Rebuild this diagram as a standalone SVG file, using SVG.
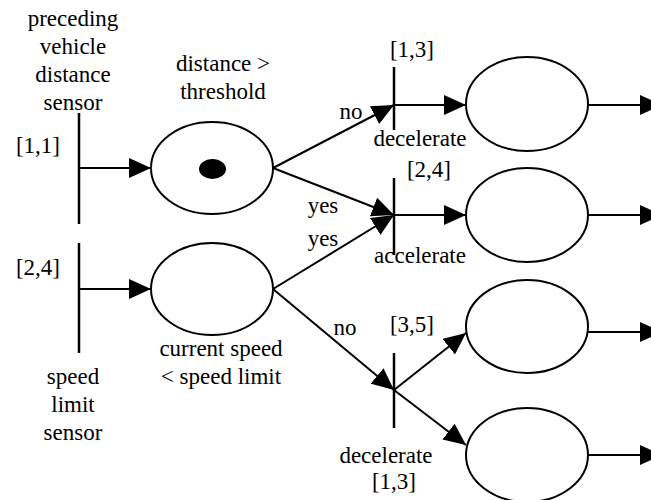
<svg xmlns="http://www.w3.org/2000/svg" width="651" height="500" viewBox="0 0 651 500">
<defs>
<marker id="ah" viewBox="0 0 22 20" refX="22" refY="10" markerWidth="22" markerHeight="20" markerUnits="userSpaceOnUse" orient="auto">
<path d="M0,0 L22,10 L0,20 Z" fill="#000"/>
</marker>
</defs>
<style>
.e{fill:#fff;stroke:#000;stroke-width:2}
.b{stroke:#000;stroke-width:2.5;fill:none}
.c{stroke:#000;stroke-width:2;fill:none;marker-end:url(#ah)}
.t{font-size:23px;fill:#000;text-anchor:middle}
</style>
<rect width="651" height="500" fill="#fff"/>
<g id="connectors">
<line class="c" x1="79" y1="168" x2="151" y2="168"/>
<line class="c" x1="79" y1="289" x2="151" y2="289"/>
<line class="c" x1="273" y1="168" x2="394" y2="105"/>
<line class="c" x1="273" y1="168" x2="394" y2="215"/>
<line class="c" x1="273" y1="289" x2="394" y2="215"/>
<line class="c" x1="273" y1="289" x2="394" y2="390"/>
<line class="c" x1="394" y1="105" x2="466" y2="105"/>
<line class="c" x1="394" y1="215" x2="466" y2="215"/>
<line class="c" x1="394" y1="390" x2="466" y2="333"/>
<line class="c" x1="394" y1="390" x2="466" y2="445"/>
<line class="c" x1="588" y1="105" x2="662" y2="105"/>
<line class="c" x1="588" y1="215" x2="662" y2="215"/>
<line class="c" x1="588" y1="332" x2="662" y2="332"/>
<line class="c" x1="588" y1="455" x2="662" y2="455"/>
</g>
<g class="t" font-family="Liberation Serif, Tinos, Times New Roman, DejaVu Serif, serif">
<g id="t1">
<line class="b" x1="79" y1="113" x2="79" y2="224"/>
<text x="73" y="26">preceding</text>
<text x="73" y="54">vehicle</text>
<text x="73" y="82">distance</text>
<text x="73" y="110">sensor</text>
<text x="38" y="153">[1,1]</text>
</g>
<g id="t2">
<line class="b" x1="79" y1="243" x2="79" y2="353"/>
<text x="38" y="275">[2,4]</text>
<text x="73" y="384">speed</text>
<text x="73" y="412">limit</text>
<text x="73" y="440">sensor</text>
</g>
<g id="p1">
<ellipse class="e" cx="212" cy="168" rx="61" ry="46"/>
<ellipse cx="212.5" cy="169" rx="13.5" ry="10" fill="#000"/>
<text x="223" y="71">distance &gt;</text>
<text x="223" y="99">threshold</text>
</g>
<g id="p2">
<ellipse class="e" cx="212" cy="289" rx="61" ry="46"/>
<text x="221" y="356">current speed</text>
<text x="221" y="384">&lt; speed limit</text>
</g>
<g id="t3">
<line class="b" x1="394" y1="67" x2="394" y2="130"/>
<text x="412" y="57">[1,3]</text>
<text x="420" y="146">decelerate</text>
<text x="351" y="119">no</text>
</g>
<g id="t4">
<line class="b" x1="394" y1="178" x2="394" y2="255"/>
<text x="429" y="177">[2,4]</text>
<text x="420" y="263">accelerate</text>
<text x="323" y="213">yes</text>
<text x="323" y="246">yes</text>
</g>
<g id="t5">
<line class="b" x1="394" y1="353" x2="394" y2="428"/>
<text x="412" y="332">[3,5]</text>
<text x="386" y="463">decelerate</text>
<text x="394" y="489">[1,3]</text>
<text x="345" y="335">no</text>
</g>
<g id="p3"><ellipse class="e" cx="527" cy="104" rx="61" ry="47"/></g>
<g id="p4"><ellipse class="e" cx="527" cy="215" rx="61" ry="47"/></g>
<g id="p5"><ellipse class="e" cx="527" cy="326.5" rx="61" ry="46.5"/></g>
<g id="p6"><ellipse class="e" cx="527" cy="455" rx="61" ry="47"/></g>
</g>
</svg>
